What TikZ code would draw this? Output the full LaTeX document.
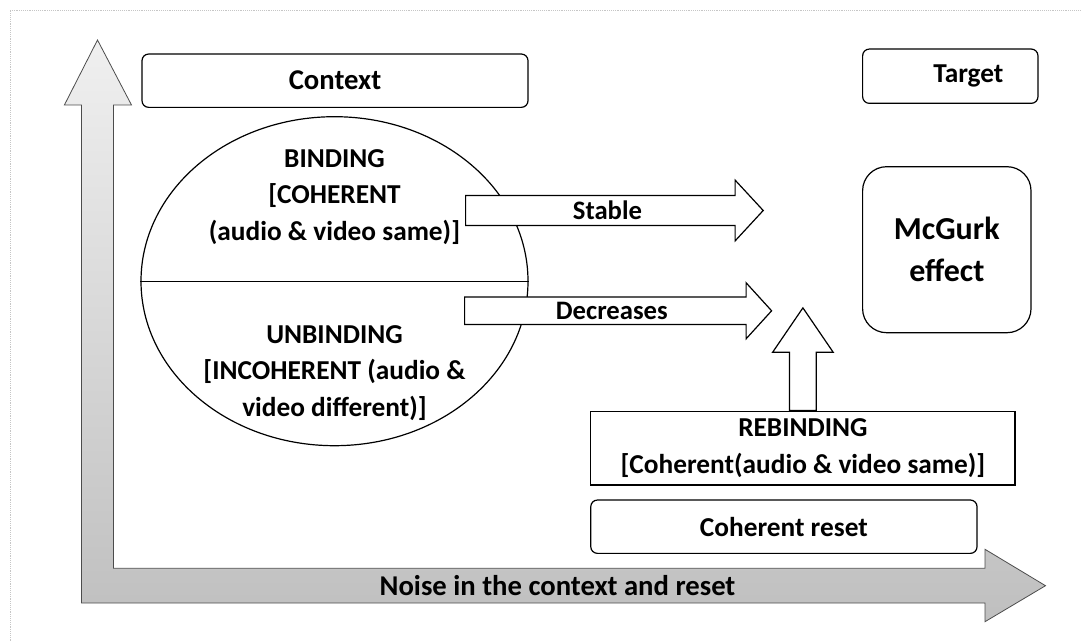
\documentclass[tikz,border=0pt]{standalone}
\usepackage{fontspec}
\setmainfont{Carlito}
\usetikzlibrary{shapes.geometric,shapes.arrows,positioning}

\begin{document}
\begin{tikzpicture}[x=0.75pt,y=-0.75pt,line width=0.9pt,
  txt/.style={font=\bfseries\fontsize{20.5}{27.5}\selectfont,align=center},
  roundbox/.style={draw,rounded corners=5pt,inner sep=0pt,txt},
  blockarrow/.style={draw,single arrow,inner xsep=0pt,inner ysep=0pt,anchor=tail,
    font=\bfseries\fontsize{20}{24}\selectfont},
  bigarrow/.style={draw=gray!60!black,line width=0.6pt,top color=gray!12,bottom color=gray!50}]
  \useasboundingbox (0,0) rectangle (1081,641);
  \draw[gray!45,line width=0.4pt,densely dotted] (10,641) -- (10,10) -- (1081,10);
  \draw[bigarrow] (97.5,40) -- (131.5,105) -- (113.5,105) -- (113.5,568.3) -- (985,568.3)
    -- (985,549.3) -- (1045.5,585.7) -- (985,621.7) -- (985,603) -- (81.5,603)
    -- (81.5,105) -- (64.4,105) -- cycle;
  \node[txt,font=\bfseries\fontsize{21.5}{27.5}\selectfont] (noise) at (557.5,586) {Noise in the context and reset};
  \node[roundbox,minimum width=289.5pt,minimum height=40pt,font=\bfseries\fontsize{21.5}{27.5}\selectfont] (context) at (335,80.7) {Context};
  \node[roundbox,minimum width=131.5pt,minimum height=40.7pt] (target) at (950.3,76.2) {\hspace*{27pt}Target};
  \node[roundbox,rounded corners=18pt,minimum width=126.3pt,minimum height=124.5pt,
    font=\bfseries\fontsize{24}{31.5}\selectfont] (mcgurk) at (946.8,249.7) {McGurk\\effect};
  \node[draw,ellipse,inner sep=0pt,minimum width=290.25pt,minimum height=246.75pt] (state) at (334.5,281.2) {};
  \draw (state.west) -- (state.east);
  \node[txt] (binding) at (334.5,197) {BINDING\\{}[COHERENT\\(audio \& video same)]};
  \node[txt] (unbinding) at (334.5,373) {UNBINDING\\{}[INCOHERENT (audio \&\\video different)]};
  \node[blockarrow,fill=white,minimum height=223.2pt,text height=17.3pt,text depth=4.4pt,
    single arrow head extend=11.5pt,single arrow tip angle=94.5] (stable) at (465,210.5) {Stable};
  \node[blockarrow,fill=white,minimum height=230.25pt,text height=16.3pt,text depth=3.4pt,
    single arrow head extend=10.7pt,single arrow tip angle=95.4] (decreases) at (464,310.8) {Decreases};
  \node[draw,inner sep=0pt,minimum width=318.2pt,minimum height=55pt,txt] (rebinding) at (802.9,448.4)
    {REBINDING\\{}[Coherent(audio \& video same)]};
  \node[roundbox,minimum width=289.7pt,minimum height=40pt] (reset) at (783.9,526.7) {Coherent reset};
  \node[blockarrow,rotate=90,minimum height=77pt,text height=19.1pt,text depth=0pt,
    single arrow head extend=12.75pt,single arrow tip angle=68.6] (rebindarrow) at (rebinding.north) {};
\end{tikzpicture}
\end{document}
